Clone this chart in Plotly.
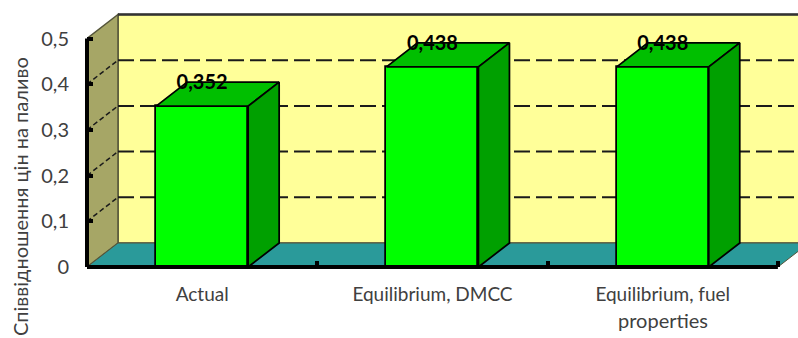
import plotly.graph_objects as go

categories = ["Actual", "Equilibrium, DMCC", "Equilibrium, fuel"]
second_lines = ["", "", "properties"]
values = [0.352, 0.438, 0.438]
value_labels = ["0,352", "0,438", "0,438"]
y_ticks = [0, 0.1, 0.2, 0.3, 0.4, 0.5]
y_tick_labels = ["0", "0,1", "0,2", "0,3", "0,4", "0,5"]
y_title = "Співвідношення цін на паливо"

# Canvas and plot-area layout, in pixels
WIDTH, HEIGHT = 798, 338
LEFT, TOP, BOTTOM = 87, 8, 71
SLOT_PX, UNIT_PX = 230.3, 457.0

# Oblique depth of the box, expressed in axis units
DX = 31 / SLOT_PX
DY = 24 / UNIT_PX
BAR_W = 92 / SLOT_PX
LABEL_DROP = 2 / UNIT_PX

X_MIN = -0.5
X_MAX = X_MIN + (WIDTH - LEFT) / SLOT_PX
X_END = 2.5
Y_MAX = (HEIGHT - BOTTOM - TOP) / UNIT_PX
Y_TOP = y_ticks[-1]

TEXT = "#404040"
FONT = "Lato"
WALL_EDGE = "#55553a"


def path(points):
    return "M " + " L ".join(f"{x},{y}" for x, y in points) + " Z"


def segment(x0, y0, x1, y1, color, width, dash="solid"):
    return dict(type="line", xref="x", yref="y", x0=x0, y0=y0, x1=x1, y1=y1,
                layer="below", line=dict(color=color, width=width, dash=dash))


def polygon(points, fill, edge, width):
    return dict(type="path", xref="x", yref="y", path=path(points), layer="below",
                fillcolor=fill, line=dict(color=edge, width=width))


# Room behind the bars: back wall, side wall and floor
shapes = [
    polygon([(X_MIN + DX, DY), (X_MAX + DX, DY), (X_MAX + DX, Y_TOP + DY), (X_MIN + DX, Y_TOP + DY)],
            "#FFFF99", WALL_EDGE, 1.5),
    polygon([(X_MIN, 0), (X_MIN + DX, DY), (X_MIN + DX, Y_TOP + DY), (X_MIN, Y_TOP)],
            "#A6A666", WALL_EDGE, 1.5),
    polygon([(X_MIN, 0), (X_END, 0), (X_END + DX, DY), (X_MIN + DX, DY)],
            "#2A9A9A", WALL_EDGE, 1),
]

# Dashed grid folding from the side wall onto the back wall
for tick in y_ticks[1:-1]:
    shapes.append(segment(X_MIN + DX, tick + DY, X_MAX + DX, tick + DY, "#1a1a1a", 2, "16px,6px"))
    shapes.append(segment(X_MIN, tick, X_MIN + DX, tick + DY, "#1a1a1a", 1.5, "5px,3px"))
shapes.append(segment(X_MIN + DX, Y_TOP + DY, X_MAX + DX, Y_TOP + DY, "#333333", 2.5))

# Heavy front axis lines sit on the plot edges, so they use paper coordinates
x_end_frac = (X_END - X_MIN) / (X_MAX - X_MIN)
y_top_frac = Y_TOP / Y_MAX
for x0, y0, x1, y1 in ((0, 0, x_end_frac, 0), (0, 0, 0, y_top_frac)):
    shapes.append(dict(type="line", xref="paper", yref="paper", x0=x0, y0=y0, x1=x1, y1=y1,
                       layer="above", line=dict(color="black", width=4)))

fig = go.Figure()

# Front faces of the bars
fig.add_trace(go.Bar(
    x=list(range(len(values))), y=values, width=BAR_W,
    marker=dict(color="#00FF00", line=dict(color="black", width=1.75)),
    showlegend=False, hoverinfo="skip",
))

# Top and side faces, offset from each bar's value
for i, v in enumerate(values):
    x0, x1 = i - BAR_W / 2, i + BAR_W / 2
    top_x = [x0, x1, x1 + DX, x0 + DX, x0]
    top_y = [v, v, v + DY, v + DY, v]
    side_x = [x1, x1 + DX, x1 + DX, x1, x1]
    side_y = [0, DY, v + DY, v, 0]
    for xs, ys, color in ((top_x, top_y, "#00BF00"), (side_x, side_y, "#00A000")):
        fig.add_trace(go.Scatter(
            x=xs, y=ys, mode="lines", fill="toself", fillcolor=color,
            line=dict(color="black", width=1.75), showlegend=False, hoverinfo="skip",
        ))

# Value labels sit on the rear edge of each bar's top face
fig.add_trace(go.Scatter(
    x=list(range(len(values))), y=[v + DY - LABEL_DROP for v in values], mode="text",
    text=value_labels, textposition="middle center",
    textfont=dict(family=FONT, size=20, color="black", weight="bold"),
    cliponaxis=False, showlegend=False, hoverinfo="skip",
))

annotations = [dict(
    text=y_title, textangle=-90, xref="paper", yref="paper",
    x=(19.5 - LEFT) / (WIDTH - LEFT), y=(HEIGHT - BOTTOM - 196.5) / (HEIGHT - BOTTOM - TOP),
    showarrow=False, xanchor="center", yanchor="middle",
    font=dict(family=FONT, size=20, color=TEXT),
)]
for i, line in enumerate(second_lines):
    if line:
        annotations.append(dict(
            text=line, xref="x", yref="paper", x=i,
            y=(HEIGHT - BOTTOM - 320) / (HEIGHT - BOTTOM - TOP),
            showarrow=False, xanchor="center", yanchor="middle",
            font=dict(family=FONT, size=20, color=TEXT),
        ))

fig.update_layout(
    width=WIDTH, height=HEIGHT,
    margin=dict(l=LEFT, r=0, t=TOP, b=BOTTOM, autoexpand=False),
    paper_bgcolor="white", plot_bgcolor="white",
    shapes=shapes, annotations=annotations,
    bargap=0,
    xaxis=dict(
        range=[X_MIN, X_MAX], showgrid=False, zeroline=False, showline=False,
        tickmode="array", tickvals=list(range(len(categories))), ticktext=categories,
        ticks="", ticklabelstandoff=14,
        tickfont=dict(family=FONT, size=19, color=TEXT),
        minor=dict(tickmode="array", tickvals=[0.5, 1.5, 2.5], ticks="inside",
                   ticklen=6, tickwidth=4, tickcolor="black", showgrid=False),
    ),
    yaxis=dict(
        range=[0, Y_MAX], showgrid=False, zeroline=False, showline=False,
        tickmode="array", tickvals=y_ticks, ticktext=y_tick_labels,
        ticks="inside", ticklen=6, tickwidth=4, tickcolor="black",
        ticklabelstandoff=17,
        tickfont=dict(family=FONT, size=20, color=TEXT),
    ),
)

fig.write_html("out.html", config=dict(displayModeBar=False))
